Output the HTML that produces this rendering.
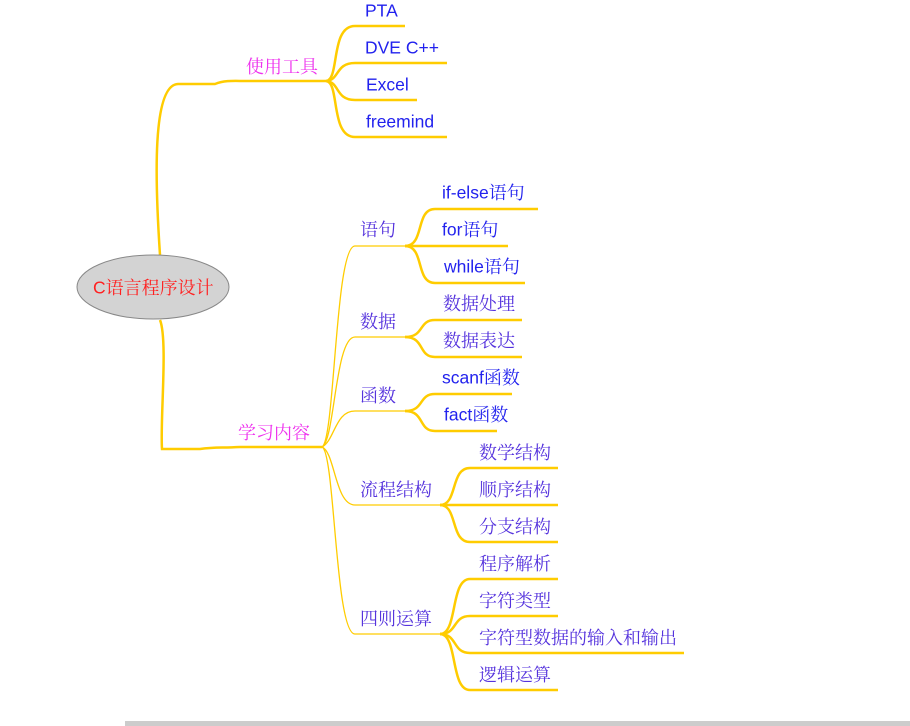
<!DOCTYPE html>
<html><head><meta charset="utf-8"><style>
html,body{margin:0;padding:0;background:#fff;width:910px;height:726px;overflow:hidden}
svg{display:block}
.l{fill:none;stroke:#ffcc00;stroke-width:1.3}
.b{fill:none;stroke:#ffcc00;stroke-width:2.5}
text{font-family:"Liberation Sans","Noto Serif CJK SC","Noto Sans CJK SC",serif;font-size:17.5px;dominant-baseline:middle}
.n{fill:#2222ee}
.k{fill:#5533dd;font-size:18px}
.m{fill:#ee33ee;font-size:18px}
.c{font-size:18px}
</style></head><body>
<svg width="910" height="726" viewBox="0 0 910 726">
<path class="b" d="M160 255 C155 180 152 85 178 84 L215 84 C225 80 235 81 245 81 L326 81"/>
<path class="b" d="M160 320 C168 340 160 420 162 449 L200 449 C215 447 220 448 240 447 L322 447"/>
<path class="b" d="M326 81 C340 80 330 26 355 26 L405 26"/>
<path class="b" d="M326 81 C340 80 335 63 355 63 L447 63"/>
<path class="b" d="M326 81 C340 82 335 100 355 100 L417 100"/>
<path class="b" d="M326 81 C340 82 330 137 355 137 L447 137"/>
<path class="l" d="M322 447 C335 440 335 246 355 246 L405 246"/>
<path class="l" d="M322 447 C335 440 335 337 355 337 L405 337"/>
<path class="l" d="M322 447 C335 440 335 411 355 411 L405 411"/>
<path class="l" d="M322 447 C335 452 335 505 355 505 L440 505"/>
<path class="l" d="M322 447 C335 452 335 634 355 634 L440 634"/>
<path class="b" d="M405 246 C425 246 415 209 435 209 L538 209"/>
<path class="b" d="M405 246 L435 246 L508 246"/>
<path class="b" d="M405 246 C425 246 415 283 435 283 L525 283"/>
<path class="b" d="M405 337 C425 337 418 320 435 320 L522 320"/>
<path class="b" d="M405 337 C425 337 418 357 435 357 L522 357"/>
<path class="b" d="M405 411 C425 411 418 394 435 394 L512 394"/>
<path class="b" d="M405 411 C425 411 418 431 435 431 L497 431"/>
<path class="b" d="M440 505 C458 505 450 468 470 468 L558 468"/>
<path class="b" d="M440 505 L558 505"/>
<path class="b" d="M440 505 C458 505 450 542 470 542 L558 542"/>
<path class="b" d="M440 634 C458 634 450 579 470 579 L558 579"/>
<path class="b" d="M440 634 C458 634 452 616 470 616 L558 616"/>
<path class="b" d="M440 634 C458 634 452 653 470 653 L684 653"/>
<path class="b" d="M440 634 C458 634 450 690 470 690 L558 690"/>
<ellipse cx="153" cy="287" rx="76" ry="32" fill="#d3d3d3" stroke="#888" stroke-width="1"/>
<text x="93" y="289" fill="#ff2020">C<tspan class="c">语言程序设计</tspan></text>
<text x="246" y="68" class="m">使用工具</text>
<text x="238" y="434" class="m">学习内容</text>
<text x="365" y="12" class="n">PTA</text>
<text x="365" y="49" class="n">DVE C++</text>
<text x="366" y="86" class="n">Excel</text>
<text x="366" y="123" class="n">freemind</text>
<text x="360" y="231" class="k">语句</text>
<text x="360" y="323" class="k">数据</text>
<text x="360" y="397" class="k">函数</text>
<text x="360" y="491" class="k">流程结构</text>
<text x="360" y="620" class="k">四则运算</text>
<text x="442" y="194" class="n">if-else<tspan class="c">语句</tspan></text>
<text x="442" y="231" class="n">for<tspan class="c">语句</tspan></text>
<text x="444" y="268" class="n">while<tspan class="c">语句</tspan></text>
<text x="443" y="305" class="k">数据处理</text>
<text x="443" y="342" class="k">数据表达</text>
<text x="442" y="379" class="n">scanf<tspan class="c">函数</tspan></text>
<text x="444" y="416" class="n">fact<tspan class="c">函数</tspan></text>
<text x="479" y="454" class="k">数学结构</text>
<text x="479" y="491" class="k">顺序结构</text>
<text x="479" y="528" class="k">分支结构</text>
<text x="479" y="565" class="k">程序解析</text>
<text x="479" y="602" class="k">字符类型</text>
<text x="479" y="639" class="k">字符型数据的输入和输出</text>
<text x="479" y="676" class="k">逻辑运算</text>
<rect x="125" y="721" width="785" height="5" fill="#cccccc"/>
</svg>
</body></html>
